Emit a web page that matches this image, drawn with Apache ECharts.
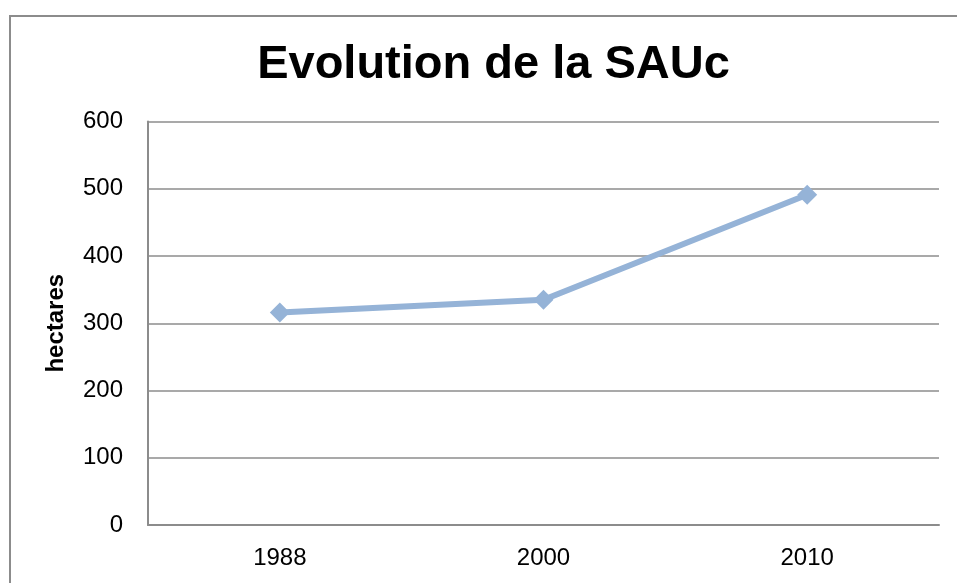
<!DOCTYPE html>
<html>
<head>
<meta charset="utf-8">
<script src="https://cdn.jsdelivr.net/npm/echarts@6/dist/echarts.min.js"></script>
<style>html,body{margin:0;padding:0;background:#fff}#c{width:957px;height:583px}</style>
</head>
<body>
<div id="c"></div>
<script>
var titleText = "Evolution de la SAUc";
var yAxisName = "hectares";
var categories = ["1988", "2000", "2010"];
var values = [316, 335, 491];
var yTicks = [0, 100, 200, 300, 400, 500, 600];

var chart = echarts.init(document.getElementById('c'), null, {renderer: 'canvas'});
var font = "'Liberation Sans', Arial, sans-serif";
chart.setOption({
  animation: false,
  backgroundColor: '#ffffff',
  graphic: [{
    type: 'rect', left: 7.5, top: 13.5, z: -1,
    shape: {x: 0, y: 0, width: 1000, height: 1000},
    style: {fill: 'none', stroke: '#8c8c8c', lineWidth: 2}
  }],
  title: {
    text: titleText, left: 488.5, top: 37, textAlign: 'center',
    textStyle: {fontFamily: font, fontSize: 47, fontWeight: 'bold', color: '#000'}
  },
  grid: {left: 148, right: 18, top: 121.5, bottom: 58, containLabel: false},
  xAxis: {
    type: 'category', data: categories, boundaryGap: true,
    axisLine: {lineStyle: {color: '#8c8c8c', width: 2}},
    axisTick: {show: false},
    axisLabel: {fontFamily: font, fontSize: 24, color: '#000', margin: 21}
  },
  yAxis: {
    type: 'value', min: yTicks[0], max: yTicks[yTicks.length - 1], interval: 100,
    name: yAxisName, nameLocation: 'middle', nameGap: 80, nameRotate: 90,
    nameTextStyle: {fontFamily: font, fontSize: 24, fontWeight: 'bold', color: '#000'},
    axisLine: {show: true, lineStyle: {color: '#8c8c8c', width: 2}},
    axisTick: {show: false},
    splitLine: {lineStyle: {color: '#8c8c8c', width: 1.5}},
    axisLabel: {fontFamily: font, fontSize: 24, color: '#000', margin: 25}
  },
  series: [{
    type: 'line', data: values,
    symbol: 'diamond', symbolSize: 20,
    lineStyle: {color: '#95B3D7', width: 6},
    itemStyle: {color: '#95B3D7'}
  }]
});
</script>
</body>
</html>
